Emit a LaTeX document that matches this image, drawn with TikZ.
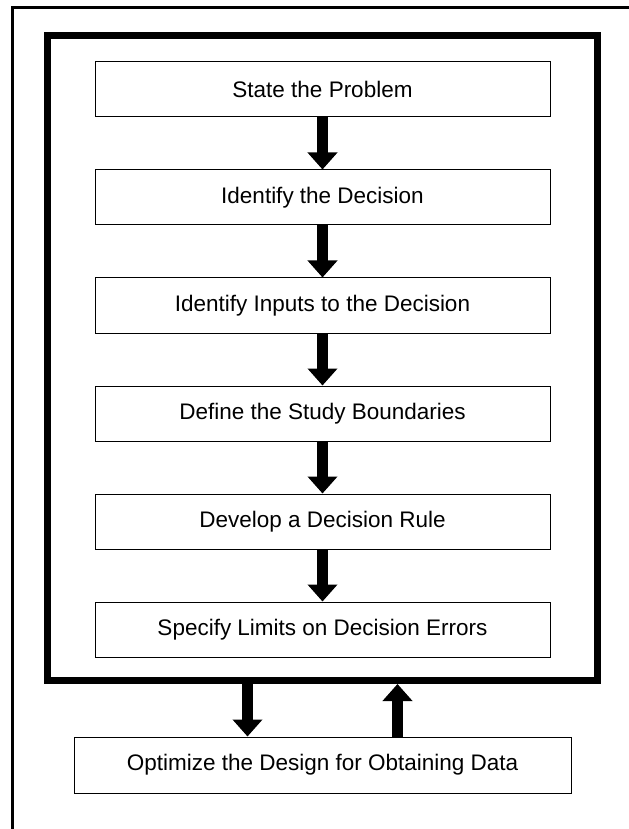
\documentclass[tikz,border=0pt]{standalone}
\usepackage{fontspec}
\setmainfont{Liberation Sans}
\usepackage{tikz}
\usetikzlibrary{arrows.meta}
\usetikzlibrary{positioning}
\tikzset{
    step box/.style={
           rectangle,
           draw=black, line width=0.02cm,
           minimum width=9.1cm,
           minimum height=1.1cm,
           inner sep=2pt,
           font=\fontsize{12.8}{15}\selectfont,
           text centered,
           },
    flow/.style={
           line width=0.22cm,
           -{Triangle[width=0.58cm,length=0.34cm]},
           },
}
\begin{document}
\begin{tikzpicture}
 \useasboundingbox (0,0) rectangle (12.56,-16.58);

 % outer frame (only top and left edges are seen)
 \draw[line width=0.06cm] (12.7,-0.15) -- (0.25,-0.15) -- (0.25,-16.7);

 \node[rectangle,
  draw=black, line width=0.14cm,
  minimum width=11cm,
  minimum height=12.9cm] (frame) at (6.45,-7.16) {};

 \node[step box] (Problem) at (6.45,-1.79)
 {State the Problem};

 \node[step box,
  below of=Problem,
  node distance=2.16cm] (Decision)
 {Identify the Decision};

 \node[step box,
  below of=Decision,
  node distance=2.16cm] (Inputs)
 {Identify Inputs to the Decision};

 \node[step box,
  below of=Inputs,
  node distance=2.16cm] (Boundaries)
 {Define the Study Boundaries};

 \node[step box,
  below of=Boundaries,
  node distance=2.16cm] (Rule)
 {Develop a Decision Rule};

 \node[step box,
  below of=Rule,
  node distance=2.16cm] (Limits)
 {Specify Limits on Decision Errors};

 \node[step box,
  minimum width=9.94cm,
  minimum height=1.12cm] (Design) at (6.45,-15.3)
 {Optimize the Design for Obtaining Data};

 % arrows between the steps
 \draw[flow] (Problem) -- (Decision);
 \draw[flow] (Decision) -- (Inputs);
 \draw[flow] (Inputs) -- (Boundaries);
 \draw[flow] (Boundaries) -- (Rule);
 \draw[flow] (Rule) -- (Limits);

 % loop to and from the design step
 \draw[flow] ([xshift=-1.5cm]frame.south) -- ([xshift=-1.5cm]Design.north);
 \draw[flow] ([xshift=1.5cm]Design.north) -- ([xshift=1.5cm]frame.south);

\end{tikzpicture}
\end{document}
